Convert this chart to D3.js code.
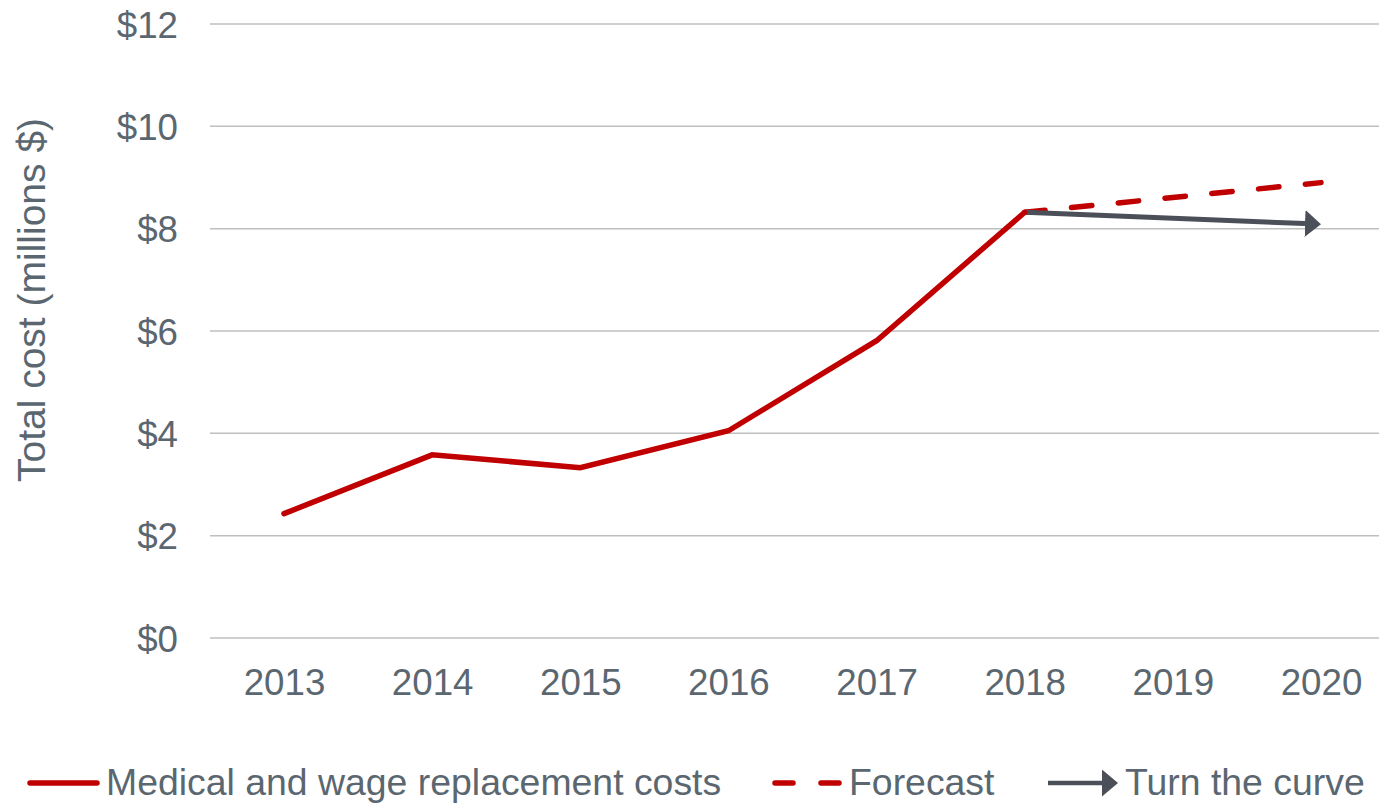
<!DOCTYPE html>
<html>
<head>
<meta charset="utf-8">
<script src="https://cdn.jsdelivr.net/npm/d3@7"></script>
<style>
  body { margin: 0; background: #fff; }
  text { font-family: "Liberation Sans", Arial, sans-serif; fill: #5b6770; }
</style>
</head>
<body>
<div id="chart"></div>
<script>
var years = [2013, 2014, 2015, 2016, 2017, 2018, 2019, 2020];
var actualYears = [2013, 2014, 2015, 2016, 2017, 2018];
var actualCosts = [2.43, 3.58, 3.33, 4.05, 5.81, 8.32];
var forecastYears = [2018, 2020];
var forecastCosts = [8.32, 8.9];
var curveYears = [2018, 2020];
var curveCosts = [8.32, 8.1];
var yTicks = [0, 2, 4, 6, 8, 10, 12];
var legendLabels = ['Medical and wage replacement costs', 'Forecast', 'Turn the curve'];

var width = 1379,
  height = 806,
  red = '#c00000',
  grey = '#4b4f58',
  tickFont = 36.7,
  legendFont = 37.4;

var svg = d3.select('#chart').append('svg')
  .attr('width', width)
  .attr('height', height);

var x = d3.scalePoint()
  .domain(years)
  .range([284, 1321]);

var y = d3.scaleLinear()
  .domain([0, 12])
  .range([638, 24]);

// gridlines
svg.append('g')
  .selectAll('line')
  .data(yTicks)
  .enter()
  .append('line')
  .attr('x1', 210)
  .attr('x2', width)
  .attr('y1', function (d) { return y(d); })
  .attr('y2', function (d) { return y(d); })
  .attr('stroke', '#bfbfbf')
  .attr('stroke-width', 1.5);

// y axis labels
var yAxis = d3.axisLeft(y)
  .tickValues(yTicks)
  .tickSize(0)
  .tickPadding(0)
  .tickFormat(function (d) { return '$' + d; });

svg.append('g')
  .attr('transform', 'translate(178,0)')
  .call(yAxis)
  .call(function (g) { g.select('.domain').remove(); })
  .selectAll('text')
  .attr('dy', '0.36em')
  .attr('font-size', tickFont)
  .attr('font-family', 'Liberation Sans, Arial, sans-serif')
  .attr('fill', '#5b6770');

// x axis labels
var xAxis = d3.axisBottom(x)
  .tickSize(0)
  .tickPadding(0);

svg.append('g')
  .attr('transform', 'translate(0,695)')
  .call(xAxis)
  .call(function (g) { g.select('.domain').remove(); })
  .selectAll('text')
  .attr('y', 0)
  .attr('dy', 0)
  .attr('font-size', tickFont)
  .attr('font-family', 'Liberation Sans, Arial, sans-serif')
  .attr('fill', '#5b6770');

// axis title
svg.append('text')
  .attr('transform', 'translate(45,300) rotate(-90)')
  .attr('text-anchor', 'middle')
  .attr('font-size', 39)
  .text('Total cost (millions $)');

var line = d3.line()
  .x(function (d) { return x(d[0]); })
  .y(function (d) { return y(d[1]); });

// forecast
svg.append('path')
  .datum(d3.zip(forecastYears, forecastCosts))
  .attr('d', line)
  .attr('fill', 'none')
  .attr('stroke', red)
  .attr('stroke-width', 5.5)
  .attr('stroke-linecap', 'round')
  .attr('stroke-dasharray', '20.5 26.5');

// turn the curve arrow
svg.append('defs').append('marker')
  .attr('id', 'arrow')
  .attr('viewBox', '0 0 10 10')
  .attr('preserveAspectRatio', 'none')
  .attr('refX', 0)
  .attr('refY', 5)
  .attr('markerUnits', 'userSpaceOnUse')
  .attr('markerWidth', 16)
  .attr('markerHeight', 27)
  .attr('orient', 'auto')
  .append('path')
  .attr('d', 'M0,0 L10,5 L0,10 Z')
  .attr('fill', grey);

var curveData = d3.zip(curveYears, curveCosts);
svg.append('path')
  .datum(curveData)
  .attr('d', function (d) {
    var p0 = [x(d[0][0]), y(d[0][1])];
    var p1 = [x(d[1][0]) - 16, y(d[1][1])];
    return 'M' + p0 + 'L' + p1;
  })
  .attr('fill', 'none')
  .attr('stroke', grey)
  .attr('stroke-width', 5)
  .attr('marker-end', 'url(#arrow)');

// actual
svg.append('path')
  .datum(d3.zip(actualYears, actualCosts))
  .attr('d', line)
  .attr('fill', 'none')
  .attr('stroke', red)
  .attr('stroke-width', 5.5)
  .attr('stroke-linecap', 'round')
  .attr('stroke-linejoin', 'miter');

// legend
var ly = 783;
var legend = svg.append('g');

legend.append('line')
  .attr('x1', 30).attr('x2', 97)
  .attr('y1', ly).attr('y2', ly)
  .attr('stroke', red)
  .attr('stroke-width', 5.5)
  .attr('stroke-linecap', 'round');
legend.append('text')
  .attr('x', 106).attr('y', 795)
  .attr('font-size', legendFont)
  .text(legendLabels[0]);

legend.append('line')
  .attr('x1', 775).attr('x2', 841)
  .attr('y1', ly).attr('y2', ly)
  .attr('stroke', red)
  .attr('stroke-width', 5.5)
  .attr('stroke-linecap', 'round')
  .attr('stroke-dasharray', '18 28');
legend.append('text')
  .attr('x', 849).attr('y', 795)
  .attr('font-size', legendFont)
  .text(legendLabels[1]);

legend.append('line')
  .attr('x1', 1048).attr('x2', 1102)
  .attr('y1', ly).attr('y2', ly)
  .attr('stroke', grey)
  .attr('stroke-width', 4.5)
  .attr('marker-end', 'url(#arrow)');
legend.append('text')
  .attr('x', 1125).attr('y', 795)
  .attr('font-size', legendFont)
  .text(legendLabels[2]);
</script>
</body>
</html>
